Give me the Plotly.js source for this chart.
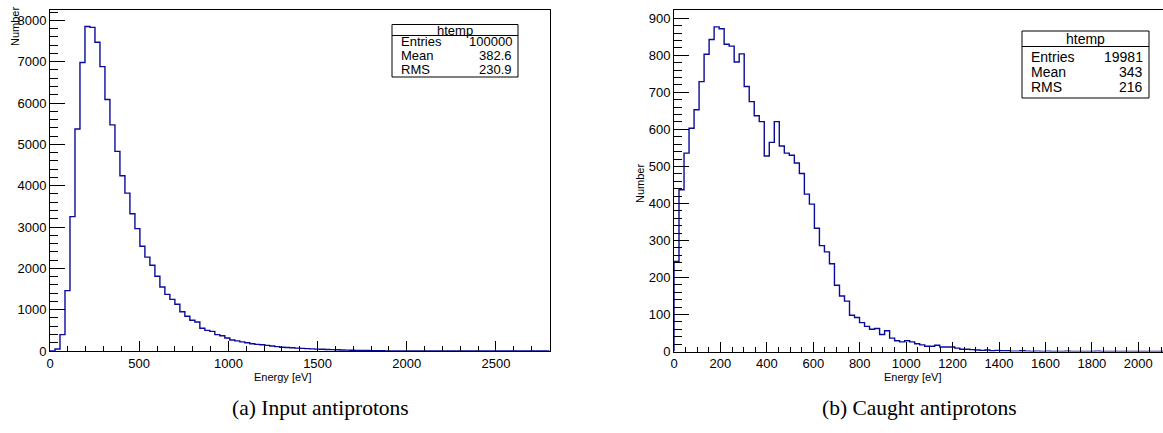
<!DOCTYPE html>
<html>
<head>
<meta charset="utf-8">
<script src="https://cdn.plot.ly/plotly-3.0.1.min.js"></script>
<style>
html,body{margin:0;padding:0;background:#fff;overflow:hidden;}
#chart{width:1163px;height:433px;}
</style>
</head>
<body>
<div id="chart"></div>
<script>
// ---- data ----
const leftBinWidth = 28;      // eV, 100 bins 0..2800
const leftCounts = [
  0, 50, 395, 1460, 3250, 5370, 6980, 7850, 7830, 7470,
  6880, 6085, 5470, 4830, 4240, 3820, 3320, 2960, 2535, 2270,
  2075, 1810, 1550, 1370, 1250, 1130, 950, 840, 745, 700,
  550, 500, 475, 395, 370, 315, 265, 245, 220, 200,
  175, 160, 150, 135, 120, 105, 92, 85, 78, 70,
  64, 58, 52, 46, 42, 38, 34, 30, 26, 22,
  19, 16, 13, 11, 9, 7, 5, 4, 3, 2,
  2, 1, 1, 1, 1, 0, 0, 0, 0, 0,
  0, 0, 0, 0, 0, 0, 0, 0, 0, 0,
  0, 0, 0, 0, 0, 0, 0, 0, 0, 0
];
const rightBinWidth = 21.6;   // eV
const rightCounts = [
  243, 437, 536, 603, 653, 729, 803, 843, 877, 872,
  830, 825, 782, 804, 716, 675, 637, 621, 528, 565,
  621, 555, 536, 530, 509, 481, 425, 398, 333, 286,
  269, 237, 179, 150, 136, 98, 92, 78, 68, 60,
  62, 46, 56, 36, 29, 26, 29, 26, 21, 18,
  14, 14, 17, 12, 12, 12, 9, 6, 6, 5,
  4, 3, 4, 2, 3, 2, 2, 1, 1, 2,
  1, 0, 1, 0, 1, 0, 0, 0, 1, 0,
  0, 0, 0, 0, 1, 0, 0, 0, 0, 0,
  0, 0, 0, 0, 0, 0, 0, 0, 0, 0
];
const statsLabels = ["Entries", "Mean", "RMS"];
const leftStats = ["100000", "382.6", "230.9"];
const rightStats = ["19981", "343", "216"];
const statsTitle = "htemp";
const xTitle = "Energy [eV]";
const yTitle = "Number";
const captions = ["(a) Input antiprotons", "(b) Caught antiprotons"];

// ---- helpers ----
const W = 1163, H = 433;
const px = x => x / W;
const py = y => 1 - y / H;

function stepTrace(counts, bw, xa, ya) {
  const xs = [0], ys = [0];
  counts.forEach((c, i) => { xs.push(i * bw); ys.push(c); });
  xs.push(counts.length * bw); ys.push(counts[counts.length - 1]);
  return {
    type: 'scatter', mode: 'lines', x: xs, y: ys, xaxis: xa, yaxis: ya,
    line: {shape: 'hv', color: '#0a0a9c', width: 1.4},
    hoverinfo: 'skip', showlegend: false
  };
}

const tickFont = {family: 'Liberation Sans, Arial, sans-serif', size: 13, color: '#000'};
function axis(extra) {
  return Object.assign({
    showline: true, linecolor: '#000', linewidth: 1,
    ticks: 'inside', tickcolor: '#000', tickwidth: 1,
    showgrid: false, zeroline: false, tickfont: tickFont,
    fixedrange: true, tick0: 0
  }, extra);
}

const layout = {
  width: W, height: H,
  margin: {l: 0, r: 0, t: 0, b: 0},
  paper_bgcolor: '#fff', plot_bgcolor: '#fff',
  showlegend: false,
  xaxis: axis({domain: [px(50), px(549.5)], range: [0, 2800], anchor: 'y', mirror: true,
    dtick: 500, ticklen: 10,
    minor: {dtick: 100, ticklen: 5, ticks: 'inside', tickcolor: '#000', tickwidth: 1}}),
  yaxis: axis({domain: [py(351), py(10)], range: [0, 8250], anchor: 'x', mirror: true,
    dtick: 1000, ticklen: 15,
    minor: {dtick: 200, ticklen: 8, ticks: 'inside', tickcolor: '#000', tickwidth: 1}}),
  xaxis2: axis({domain: [px(674), 1], range: [0, (1163 - 674) / 0.23215], anchor: 'y2', mirror: true,
    dtick: 200, ticklen: 10,
    minor: {dtick: 50, ticklen: 5, ticks: 'inside', tickcolor: '#000', tickwidth: 1}}),
  yaxis2: axis({domain: [py(351.5), py(10)], range: [0, 922.5], anchor: 'x2', mirror: false,
    dtick: 100, ticklen: 15,
    minor: {dtick: 20, ticklen: 8, ticks: 'inside', tickcolor: '#000', tickwidth: 1}}),
  shapes: [],
  annotations: []
};

function ann(x, y, text, opts) {
  layout.annotations.push(Object.assign({
    xref: 'paper', yref: 'paper', x: px(x), y: py(y), text: text,
    showarrow: false, xanchor: 'center', yanchor: 'middle', borderpad: 0,
    font: {family: 'Liberation Sans, Arial, sans-serif', size: 14, color: '#000'}
  }, opts || {}));
}
function statsBox(x0, x1, y0, ysep, y1, rowsY, titleY, labels, values, fsize) {
  const f = {family: 'Liberation Sans, Arial, sans-serif', size: fsize, color: '#000'};
  layout.shapes.push({type: 'rect', xref: 'paper', yref: 'paper',
    x0: px(x0), x1: px(x1), y0: py(y0), y1: py(y1),
    line: {color: '#000', width: 1}, fillcolor: '#fff', layer: 'above'});
  layout.shapes.push({type: 'line', xref: 'paper', yref: 'paper',
    x0: px(x0), x1: px(x1), y0: py(ysep), y1: py(ysep),
    line: {color: '#000', width: 1}, layer: 'above'});
  ann((x0 + x1) / 2, titleY, statsTitle, {font: f});
  labels.forEach((l, i) => {
    ann(x0 + 8, rowsY[i], l, {xanchor: 'left', font: f});
    ann(x1 - 5, rowsY[i], values[i], {xanchor: 'right', font: f});
  });
}
statsBox(392, 518, 24.5, 35.5, 77, [42, 56, 70], 30, statsLabels, leftStats, 13);
statsBox(1022, 1149, 31, 46.5, 98, [56.5, 72, 87.5], 39, statsLabels, rightStats, 14);

// axis titles
const titleFont = {family: 'Liberation Sans, Arial, sans-serif', size: 11, color: '#000'};
ann(282, 376.5, xTitle, {font: titleFont});
ann(912, 376.5, xTitle, {font: titleFont});
ann(15, 27, yTitle, {font: titleFont, textangle: -90});
ann(640, 184, yTitle, {font: titleFont, textangle: -90});

// captions
const capFont = {family: 'Liberation Serif, Times New Roman, serif', size: 21.5, color: '#000'};
ann(320, 408, captions[0], {font: capFont});
ann(920, 408, captions[1], {font: capFont});

const data = [
  stepTrace(leftCounts, leftBinWidth, 'x', 'y'),
  stepTrace(rightCounts, rightBinWidth, 'x2', 'y2')
];

Plotly.newPlot('chart', data, layout, {staticPlot: true, displayModeBar: false});
</script>
</body>
</html>
